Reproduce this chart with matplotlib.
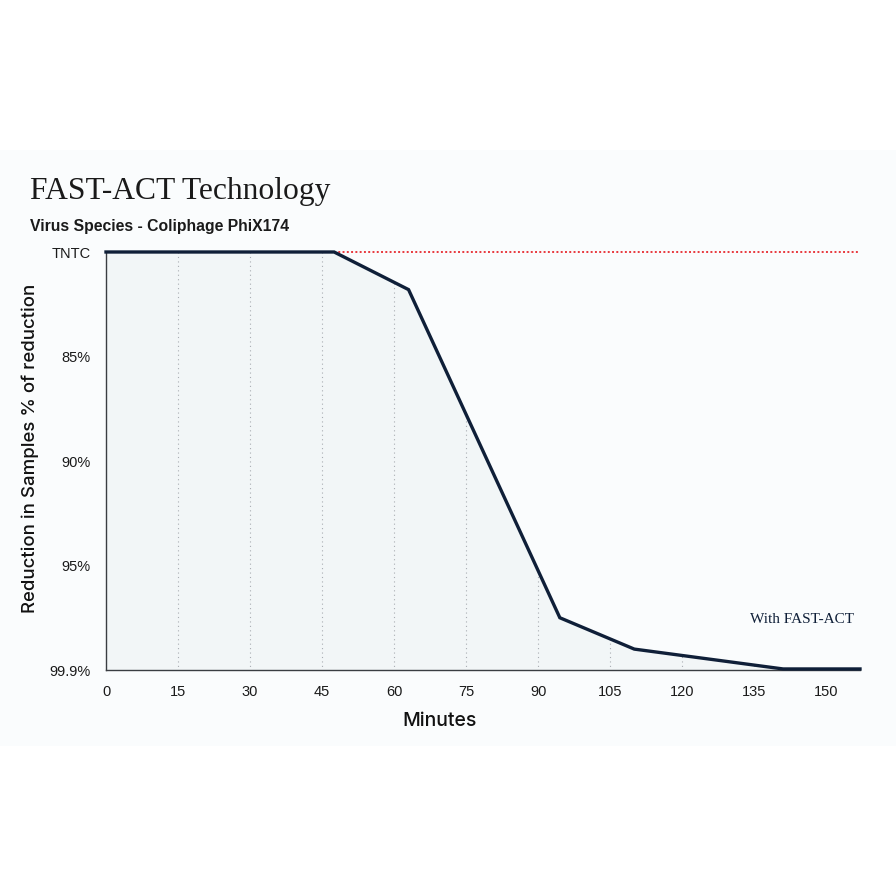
import matplotlib
matplotlib.use("Agg")
import matplotlib.pyplot as plt
from matplotlib.patches import Rectangle
import numpy as np

# Data
minutes = [0, 47.5, 63, 94.5, 110, 141, 157]
reduction = [80, 80, 81.8, 97.5, 99.0, 99.95, 99.95]
x_ticks = [0, 15, 30, 45, 60, 75, 90, 105, 120, 135, 150]
y_ticks = [80, 85, 90, 95, 100]
y_tick_labels = ["TNTC", "85%", "90%", "95%", "99.9%"]
tntc_start = 47.5
x_max = 157

navy = "#0f1f38"
fig = plt.figure(figsize=(8.96, 8.96), dpi=100)
fig.patch.set_facecolor("white")
fig.patches.append(Rectangle((0, 1 - 746 / 896), 1, 596 / 896, transform=fig.transFigure,
                             facecolor="#fafcfd", edgecolor="none", zorder=-10))

ax = fig.add_axes([106 / 896, 1 - 670 / 896, (860 - 106) / 896, (670 - 252) / 896])
ax.set_facecolor("none")
ax.set_xlim(0, x_max)
ax.set_ylim(100, 80)

fill = ax.fill_between(minutes, reduction, 100, color="#f2f6f7", linewidth=0, zorder=1)
for xt in x_ticks[1:]:
    gl, = ax.plot([xt, xt], [80, 100], linestyle=(0, (1, 3)), color="#a9adb2", linewidth=0.8, zorder=2)
    gl.set_clip_path(fill.get_paths()[0], ax.transData)

ax.plot([tntc_start, x_max], [80, 80], linestyle=(0, (1, 1.2)), color="#e8383d", linewidth=1.4, zorder=3, clip_on=False)
ax.plot(minutes, reduction, color=navy, linewidth=2.4, zorder=4, solid_joinstyle="miter", clip_on=False)

for s in ["top", "right"]:
    ax.spines[s].set_visible(False)
for s in ["left", "bottom"]:
    ax.spines[s].set_color("#3a3d42")
    ax.spines[s].set_linewidth(1.0)

ax.set_xticks(x_ticks)
ax.set_xticklabels([str(v) for v in x_ticks], fontsize=10.5, color="#1a1a1a", family="Liberation Sans")
ax.set_yticks(y_ticks)
ax.set_yticklabels(y_tick_labels, fontsize=10.5, color="#1a1a1a", family="Liberation Sans")
ax.tick_params(axis="x", length=0, pad=11)
ax.tick_params(axis="y", length=0, pad=11)

ax.set_xlabel("Minutes", fontsize=14, family="Inter", fontweight="medium", color="#111111")
ax.xaxis.set_label_coords((440 - 106) / (860 - 106), -(721 - 670) / (670 - 252), transform=ax.transAxes)
ax.set_ylabel("Reduction in Samples % of reduction", fontsize=13.4, family="Inter", fontweight="medium",
              color="#111111")
ax.yaxis.set_label_coords(-(106 - 30) / (860 - 106), (670 - 448) / (670 - 252), transform=ax.transAxes)
ax.xaxis.label.set_va("center")
ax.yaxis.label.set_va("center")

fig.text(30 / 896, 1 - 192 / 896, "FAST-ACT Technology", fontsize=22.7, family="Liberation Serif",
         color="#1a1a1a", va="center", ha="left")
fig.text(30 / 896, 1 - 226 / 896, "Virus Species - Coliphage PhiX174", fontsize=11.3, family="Liberation Sans",
         fontweight="bold", color="#1a1a1a", va="center", ha="left")
ax.text(155.8, 97.56, "With FAST-ACT", fontsize=11, family="Liberation Serif", color=navy,
        ha="right", va="center")

fig.savefig("out.png", dpi=100)
